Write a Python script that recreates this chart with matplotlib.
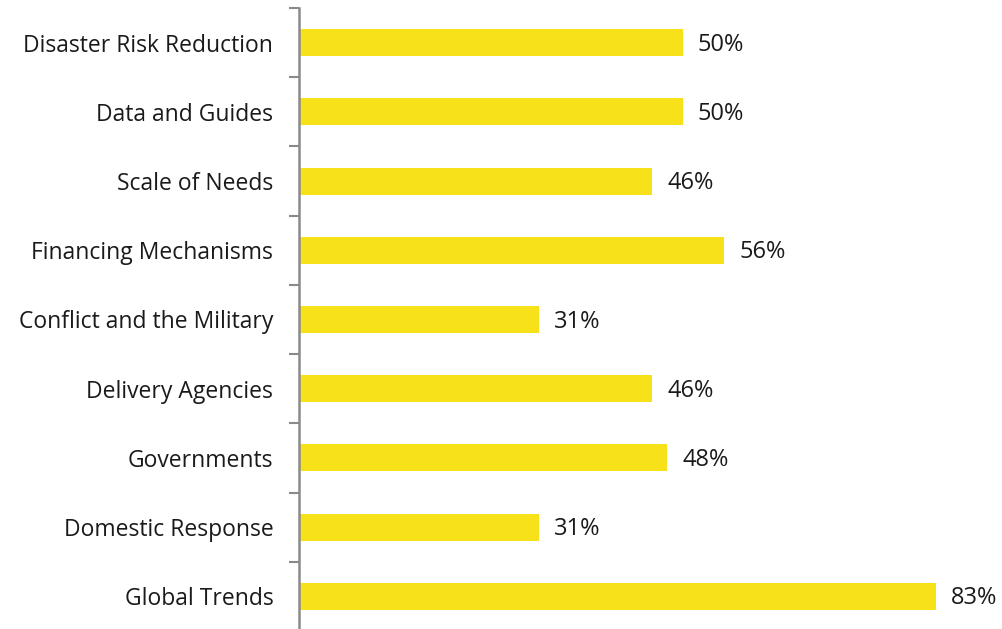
import numpy as np
import matplotlib.pyplot as plt

#------------------------------Datos------------------------------------------
categorias = ["Disaster Risk Reduction", "Data and Guides", "Scale of Needs",
              "Financing Mechanisms", "Conflict and the Military",
              "Delivery Agencies", "Governments", "Domestic Response",
              "Global Trends"]
porcentajes = [50, 50, 46, 55.4, 31.3, 46, 48, 31.3, 83]
etiquetas = ["50%", "50%", "46%", "56%", "31%", "46%", "48%", "31%", "83%"]

amarillo = "#F7E21A"
gris = "#8A8A8A"

#------------------------------Figura-----------------------------------------
plt.rcParams["font.family"] = ["Open Sans", "DejaVu Sans"]
fig = plt.figure(figsize=(10.03, 6.29), dpi=100)
# eje izquierdo en x=299px, la parte baja queda fuera de la imagen
ax = fig.add_axes([299 / 1003, -2 / 629, 1 - 299 / 1003, 623 / 629])

y = np.arange(len(categorias))
ax.barh(y, porcentajes, height=0.39, color=amarillo, zorder=2)
for yi, v, et in zip(y, porcentajes, etiquetas):
    ax.text(v + 2.0, yi + 0.03, et, va="center", ha="left", fontsize=17, color="#1a1a1a")

ax.set_xlim(0, 704 / 7.67)
ax.set_ylim(len(categorias) - 0.5, -0.5)

# ticks en los limites de categoria, etiquetas en el centro
ax.set_yticks(np.arange(-0.5, len(categorias) + 0.5, 1))
ax.set_yticklabels([])
ax.set_yticks(y, minor=True)
ax.set_yticklabels(categorias, minor=True, fontsize=16.5, color="#1a1a1a")
ax.tick_params(axis="y", which="major", length=7, width=1.5, color=gris, direction="out")
ax.tick_params(axis="y", which="minor", length=0, pad=18.5)
ax.set_xticks([])

for lado in ["top", "right", "bottom"]:
    ax.spines[lado].set_visible(False)
ax.spines["left"].set_color(gris)
ax.spines["left"].set_linewidth(1.8)

fig.savefig("out.png", dpi=100)
